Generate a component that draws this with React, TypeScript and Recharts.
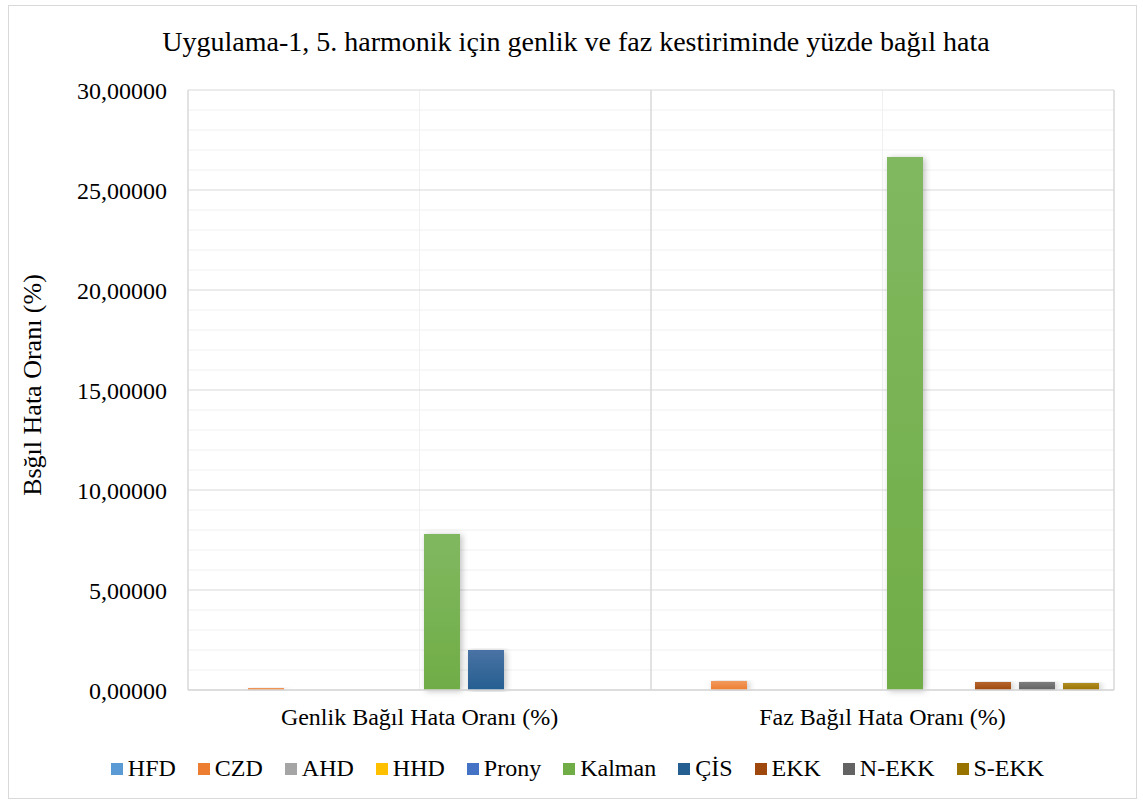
import { BarChart, Bar, XAxis, YAxis, CartesianGrid } from "recharts";

const categories = ["Genlik Bağıl Hata Oranı (%)", "Faz Bağıl Hata Oranı (%)"];
const seriesNames = ["HFD", "CZD", "AHD", "HHD", "Prony", "Kalman", "ÇİS", "EKK", "N-EKK", "S-EKK"];
const colors = ["#5B9BD5", "#ED7D31", "#A5A5A5", "#FFC000", "#4472C4", "#70AD47", "#255E91", "#9E480E", "#636363", "#997300"];
const topColors = ["#7fb1e0", "#f29a5e", "#bcbcbc", "#ffcf40", "#6a8fd2", "#80b860", "#4a72a4", "#b5652e", "#7d7d7d", "#b08c24"];

const hfd = [0.0, 0.0];
const czd = [0.1, 0.45];
const ahd = [0.0, 0.0];
const hhd = [0.0, 0.0];
const prony = [0.0, 0.0];
const kalman = [7.8, 26.65];
const cis = [2.0, 0.0];
const ekk = [0.0, 0.4];
const nekk = [0.0, 0.4];
const sekk = [0.0, 0.35];

const yTicks = [0, 5, 10, 15, 20, 25, 30];
const minorTicks = Array.from({ length: 31 }, (_, i) => i).filter((v) => v % 5 !== 0);

const seriesValues = [hfd, czd, ahd, hhd, prony, kalman, cis, ekk, nekk, sekk];

const data = categories.map((name, i) => {
  const row: Record<string, string | number> = { name };
  seriesNames.forEach((s, j) => {
    row[s] = seriesValues[j][i];
  });
  return row;
});

const fmt = (v: number) => v.toFixed(5).replace(".", ",");
const font = "'Liberation Serif', 'Times New Roman', serif";

// category boundaries, from the plot offset the chart computed
const boundaryLines = ({ offset }: any) =>
  categories.map((_, k) => offset.left + (offset.width * (k + 1)) / categories.length);

export default function App() {
  return (
    <div style={{ position: "absolute", left: 0, top: 0, width: 1143, height: 803, background: "#fff", fontFamily: font }}>
      <div style={{ position: "absolute", left: 8, top: 5, width: 1127, height: 792, border: "1px solid #d9d9d9" }} />
      <div style={{ position: "absolute", top: 26, left: 0, width: 1152, textAlign: "center", fontSize: 28, color: "#000" }}>
        Uygulama-1, 5. harmonik için genlik ve faz kestiriminde yüzde bağıl hata
      </div>
      <div
        style={{
          position: "absolute",
          left: 33,
          top: 385,
          transform: "translate(-50%, -50%) rotate(-90deg)",
          whiteSpace: "nowrap",
          fontSize: 26,
        }}
      >
        Bsğıl Hata Oranı (%)
      </div>
      <BarChart
        width={1143}
        height={803}
        data={data}
        margin={{ top: 90, right: 29, bottom: 73, left: 0 }}
        barCategoryGap={16}
        barGap={8}
        style={{ position: "absolute", left: 0, top: 0 }}
      >
        <defs>
          {colors.map((c, i) => (
            <linearGradient key={i} id={`g${i}`} x1="0" y1="0" x2="0" y2="1">
              <stop offset="0%" stopColor={topColors[i]} />
              <stop offset="100%" stopColor={c} />
            </linearGradient>
          ))}
          <filter id="shadow" x="-20%" y="-5%" width="140%" height="110%">
            <feDropShadow dx="2" dy="1" stdDeviation="3" floodColor="#000" floodOpacity="0.25" />
          </filter>
        </defs>
        <CartesianGrid stroke="#f0f0f0" horizontalValues={minorTicks} verticalValues={categories} />
        <CartesianGrid stroke="#d9d9d9" horizontalValues={yTicks} vertical={false} />
        <CartesianGrid
          stroke="#d9d9d9"
          strokeWidth={1.5}
          horizontal={false}
          verticalCoordinatesGenerator={boundaryLines}
        />
        <XAxis
          dataKey="name"
          height={40}
          tickLine={false}
          axisLine={{ stroke: "#d9d9d9", strokeWidth: 1.5 }}
          tick={{ fill: "#000", fontSize: 24, fontFamily: font }}
          tickMargin={12}
        />
        <YAxis
          width={188}
          domain={[0, 30]}
          ticks={yTicks}
          tickFormatter={fmt}
          tickLine={false}
          axisLine={{ stroke: "#d9d9d9", strokeWidth: 1.5 }}
          tick={{ fill: "#000", fontSize: 24, fontFamily: font }}
          tickMargin={15}
          interval={0}
        />
        {seriesNames.map((s, i) => (
          <Bar key={s} dataKey={s} fill={`url(#g${i})`} isAnimationActive={false} style={{ filter: "url(#shadow)" }} />
        ))}
      </BarChart>
      <div
        style={{
          position: "absolute",
          top: 755,
          left: 0,
          width: 1155,
          display: "flex",
          justifyContent: "center",
          fontSize: 24,
          gap: 22,
        }}
      >
        {seriesNames.map((s, i) => (
          <div key={s} style={{ display: "flex", alignItems: "center", gap: 5 }}>
            <span style={{ display: "inline-block", width: 12, height: 12, background: colors[i] }} />
            <span>{s}</span>
          </div>
        ))}
      </div>
    </div>
  );
}
